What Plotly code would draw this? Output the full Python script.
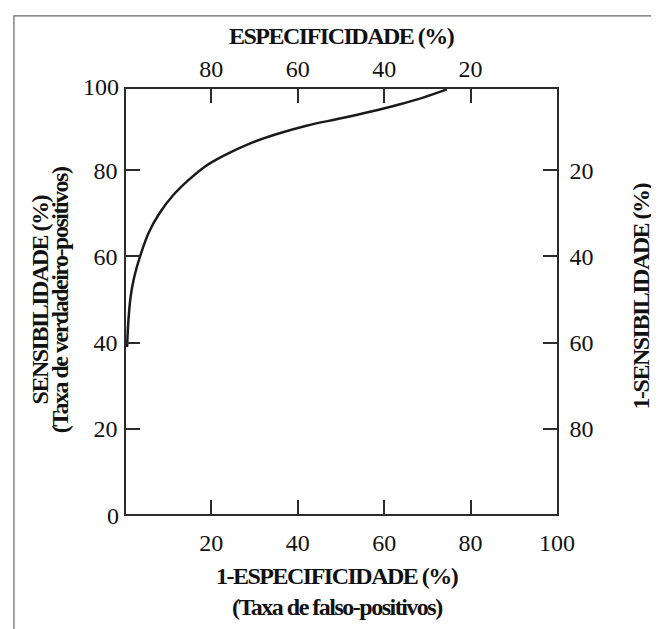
import plotly.graph_objects as go

# Data (ROC curve): 1-specificity (%) vs sensitivity (%)
false_pos_rate = [0.5, 0.8, 1.3, 2.1, 3.5, 5.5, 8, 11, 14.5, 18.5, 23, 29, 35, 42, 50, 57, 63, 69, 74.5]
sensitivity = [39, 45, 50.5, 55, 60, 65.5, 70, 74, 77.5, 80.8, 83.4, 86.2, 88.3, 90.3, 92.0, 93.6, 95.1, 96.8, 98.7]

bottom_ticks = [20, 40, 60, 80, 100]
top_ticks = [80, 60, 40, 20]
left_ticks = [20, 40, 60, 80]
right_ticks = [20, 40, 60, 80]
left_corner_labels = ["0", "100"]

specificity = [100 - v for v in false_pos_rate]
one_minus_sens = [100 - s for s in sensitivity]

SERIF = "Liberation Serif"
LINE = "#2b2b2b"
TICKFONT = dict(family=SERIF, size=24, color="#111")


def tight(txt, ls=-1.5):
    return f'<span style="letter-spacing:{ls}px"><b>{txt}</b></span>'


fig = go.Figure()
fig.add_trace(go.Scatter(x=false_pos_rate, y=sensitivity, mode="lines",
                         line=dict(color="#1a1a1a", width=2.5, shape="spline", smoothing=1),
                         hoverinfo="skip", showlegend=False))
# invisible trace carrying the secondary (top / right) scales
fig.add_trace(go.Scatter(x=specificity, y=one_minus_sens, mode="lines",
                         line=dict(width=0), opacity=0, xaxis="x2", yaxis="y2",
                         hoverinfo="skip", showlegend=False))

common = dict(showgrid=False, zeroline=False, showline=True, linecolor=LINE, linewidth=1.5,
              ticks="inside", ticklen=14, tickwidth=1.5, tickcolor=LINE, tickfont=TICKFONT)

fig.update_layout(
    width=659, height=629,
    margin=dict(l=118, r=110, t=81, b=123),
    paper_bgcolor="white", plot_bgcolor="white",
    xaxis=dict(range=[0.25, 100], tickvals=bottom_ticks,
               ticktext=[str(v) for v in bottom_ticks], ticklabelstandoff=6, **common),
    xaxis2=dict(range=[99.75, 0], tickvals=top_ticks, ticktext=[str(v) for v in top_ticks],
                overlaying="x", side="top", anchor="y", ticklabelstandoff=1, **common),
    yaxis=dict(range=[0.3, 98.8], tickvals=left_ticks, ticktext=[str(v) for v in left_ticks],
               ticklabelstandoff=2, **common),
    yaxis2=dict(range=[99.7, 1.2], tickvals=right_ticks, ticktext=[str(v) for v in right_ticks],
                overlaying="y", side="right", anchor="x", ticklabelstandoff=6, **common),
)

# paper coordinates: plot area is 431 x 425 px (left 118, top 81)
TFONT = dict(family=SERIF, size=24, color="#111")
ann = [
    dict(text=tight("ESPECIFICIDADE (%)"), x=0.501, y=1.124, textangle=0),
    dict(text=tight("1-ESPECIFICIDADE (%)"), x=0.490, y=-0.147, textangle=0),
    dict(text=tight("(Taxa de falso-positivos)"), x=0.489, y=-0.218, textangle=0),
    dict(text=tight("SENSIBILIDADE (%)"), x=-0.199, y=0.503, textangle=-90),
    dict(text=tight("(Taxa de verdadeiro-positivos)"), x=-0.153, y=0.503, textangle=-90),
    dict(text=tight("1-SENSIBILIDADE (%)"), x=1.195, y=0.512, textangle=-90),
]
for a in ann:
    fig.add_annotation(xref="paper", yref="paper", showarrow=False, font=TFONT,
                       xanchor="center", yanchor="middle", **a)

# corner labels of the left scale
fig.add_annotation(text=left_corner_labels[0], xref="paper", yref="paper", x=-0.012, y=-0.005,
                   xanchor="right", yanchor="middle", showarrow=False, font=TICKFONT)
fig.add_annotation(text=left_corner_labels[1], xref="paper", yref="paper", x=-0.012, y=1.005,
                   xanchor="right", yanchor="middle", showarrow=False, font=TICKFONT)

# outer frame of the figure
fig.add_shape(type="path", xref="paper", yref="paper",
              path="M -0.26,-0.3 L -0.26,1.172 L 1.253,1.172 L 1.253,-0.3",
              line=dict(color="#666", width=1.2))

fig.write_html("out.html")
